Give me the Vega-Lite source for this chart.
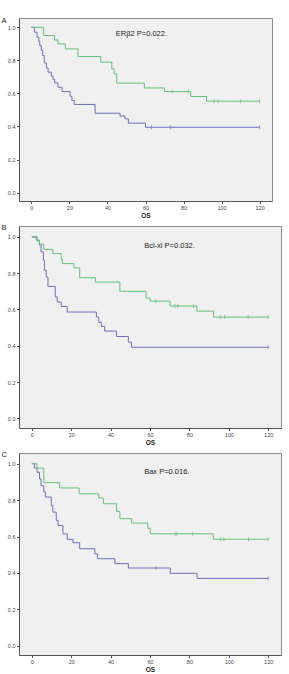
{
  "$schema": "https://vega.github.io/schema/vega-lite/v6.json",
  "padding": {"left": 0, "top": 16, "right": 0, "bottom": 0},
  "background": "white",
  "datasets": {
    "km": [
      {"p":"A","g":"1","t":0,"s":1,"c":0},{"p":"A","g":"1","t":1.6,"s":0.97,"c":0},{"p":"A","g":"1","t":3,"s":0.94,"c":0},{"p":"A","g":"1","t":3.9,"s":0.915,"c":0},{"p":"A","g":"1","t":4.4,"s":0.889,"c":0},{"p":"A","g":"1","t":5.2,"s":0.86,"c":0},{"p":"A","g":"1","t":6,"s":0.829,"c":0},{"p":"A","g":"1","t":6.8,"s":0.784,"c":0},{"p":"A","g":"1","t":7.9,"s":0.754,"c":0},{"p":"A","g":"1","t":8.8,"s":0.728,"c":0},{"p":"A","g":"1","t":10.5,"s":0.704,"c":0},{"p":"A","g":"1","t":11.4,"s":0.684,"c":0},{"p":"A","g":"1","t":12.3,"s":0.663,"c":0},{"p":"A","g":"1","t":14,"s":0.637,"c":0},{"p":"A","g":"1","t":16.1,"s":0.611,"c":0},{"p":"A","g":"1","t":20.4,"s":0.583,"c":0},{"p":"A","g":"1","t":21.3,"s":0.557,"c":0},{"p":"A","g":"1","t":22.5,"s":0.533,"c":0},{"p":"A","g":"1","t":33.5,"s":0.48,"c":0},{"p":"A","g":"1","t":46.6,"s":0.463,"c":0},{"p":"A","g":"1","t":49.2,"s":0.446,"c":0},{"p":"A","g":"1","t":51,"s":0.42,"c":0},{"p":"A","g":"1","t":60,"s":0.395,"c":0},{"p":"A","g":"1","t":63.2,"s":0.395,"c":1},{"p":"A","g":"1","t":73.2,"s":0.395,"c":1},{"p":"A","g":"1","t":120,"s":0.395,"c":1},
      {"p":"A","g":"2","t":0,"s":1,"c":0},{"p":"A","g":"2","t":6.5,"s":0.95,"c":0},{"p":"A","g":"2","t":12.2,"s":0.923,"c":0},{"p":"A","g":"2","t":14,"s":0.899,"c":0},{"p":"A","g":"2","t":17.8,"s":0.869,"c":0},{"p":"A","g":"2","t":24.5,"s":0.823,"c":0},{"p":"A","g":"2","t":36.5,"s":0.789,"c":0},{"p":"A","g":"2","t":42.3,"s":0.748,"c":0},{"p":"A","g":"2","t":43.5,"s":0.718,"c":0},{"p":"A","g":"2","t":44.9,"s":0.662,"c":0},{"p":"A","g":"2","t":59.4,"s":0.633,"c":0},{"p":"A","g":"2","t":69.9,"s":0.611,"c":0},{"p":"A","g":"2","t":74.1,"s":0.611,"c":1},{"p":"A","g":"2","t":82.5,"s":0.611,"c":1},{"p":"A","g":"2","t":83.8,"s":0.581,"c":0},{"p":"A","g":"2","t":92.1,"s":0.553,"c":0},{"p":"A","g":"2","t":96.1,"s":0.553,"c":1},{"p":"A","g":"2","t":98.2,"s":0.553,"c":1},{"p":"A","g":"2","t":109.9,"s":0.553,"c":1},{"p":"A","g":"2","t":120,"s":0.553,"c":1},
      {"p":"B","g":"1","t":0,"s":1,"c":0},{"p":"B","g":"1","t":2.7,"s":0.978,"c":0},{"p":"B","g":"1","t":3.9,"s":0.954,"c":0},{"p":"B","g":"1","t":4.7,"s":0.917,"c":0},{"p":"B","g":"1","t":5.9,"s":0.871,"c":0},{"p":"B","g":"1","t":6.4,"s":0.816,"c":0},{"p":"B","g":"1","t":7.3,"s":0.779,"c":0},{"p":"B","g":"1","t":8.2,"s":0.727,"c":0},{"p":"B","g":"1","t":11.9,"s":0.669,"c":0},{"p":"B","g":"1","t":12.9,"s":0.641,"c":0},{"p":"B","g":"1","t":14.9,"s":0.617,"c":0},{"p":"B","g":"1","t":18,"s":0.586,"c":0},{"p":"B","g":"1","t":32.8,"s":0.558,"c":0},{"p":"B","g":"1","t":34,"s":0.53,"c":0},{"p":"B","g":"1","t":35.3,"s":0.507,"c":0},{"p":"B","g":"1","t":37,"s":0.481,"c":0},{"p":"B","g":"1","t":43,"s":0.451,"c":0},{"p":"B","g":"1","t":49,"s":0.42,"c":0},{"p":"B","g":"1","t":50.6,"s":0.392,"c":0},{"p":"B","g":"1","t":120,"s":0.392,"c":1},
      {"p":"B","g":"2","t":0,"s":1,"c":0},{"p":"B","g":"2","t":2.2,"s":0.982,"c":0},{"p":"B","g":"2","t":3.9,"s":0.96,"c":0},{"p":"B","g":"2","t":6.1,"s":0.931,"c":0},{"p":"B","g":"2","t":10.7,"s":0.908,"c":0},{"p":"B","g":"2","t":14.9,"s":0.877,"c":0},{"p":"B","g":"2","t":15.5,"s":0.853,"c":0},{"p":"B","g":"2","t":21.4,"s":0.829,"c":0},{"p":"B","g":"2","t":24.3,"s":0.775,"c":0},{"p":"B","g":"2","t":32.3,"s":0.751,"c":0},{"p":"B","g":"2","t":44.7,"s":0.7,"c":0},{"p":"B","g":"2","t":58,"s":0.663,"c":0},{"p":"B","g":"2","t":60,"s":0.646,"c":0},{"p":"B","g":"2","t":62.9,"s":0.646,"c":1},{"p":"B","g":"2","t":70.2,"s":0.619,"c":0},{"p":"B","g":"2","t":72.7,"s":0.619,"c":1},{"p":"B","g":"2","t":74.1,"s":0.619,"c":1},{"p":"B","g":"2","t":82.1,"s":0.619,"c":1},{"p":"B","g":"2","t":83.8,"s":0.591,"c":0},{"p":"B","g":"2","t":92.3,"s":0.558,"c":0},{"p":"B","g":"2","t":95.7,"s":0.558,"c":1},{"p":"B","g":"2","t":97.9,"s":0.558,"c":1},{"p":"B","g":"2","t":109.8,"s":0.558,"c":1},{"p":"B","g":"2","t":120,"s":0.558,"c":1},
      {"p":"C","g":"1","t":0,"s":1,"c":0},{"p":"C","g":"1","t":1.3,"s":0.976,"c":0},{"p":"C","g":"1","t":2.7,"s":0.953,"c":0},{"p":"C","g":"1","t":3.9,"s":0.916,"c":0},{"p":"C","g":"1","t":4.7,"s":0.879,"c":0},{"p":"C","g":"1","t":6.1,"s":0.846,"c":0},{"p":"C","g":"1","t":6.9,"s":0.817,"c":0},{"p":"C","g":"1","t":9.9,"s":0.771,"c":0},{"p":"C","g":"1","t":10.7,"s":0.734,"c":0},{"p":"C","g":"1","t":12.4,"s":0.689,"c":0},{"p":"C","g":"1","t":13.3,"s":0.661,"c":0},{"p":"C","g":"1","t":15.8,"s":0.615,"c":0},{"p":"C","g":"1","t":18,"s":0.585,"c":0},{"p":"C","g":"1","t":20.9,"s":0.566,"c":0},{"p":"C","g":"1","t":24.3,"s":0.533,"c":0},{"p":"C","g":"1","t":32,"s":0.505,"c":0},{"p":"C","g":"1","t":33.3,"s":0.478,"c":0},{"p":"C","g":"1","t":42.2,"s":0.451,"c":0},{"p":"C","g":"1","t":49,"s":0.427,"c":0},{"p":"C","g":"1","t":63,"s":0.427,"c":1},{"p":"C","g":"1","t":70.3,"s":0.398,"c":0},{"p":"C","g":"1","t":83.9,"s":0.37,"c":0},{"p":"C","g":"1","t":120,"s":0.37,"c":1},
      {"p":"C","g":"2","t":0,"s":1,"c":0},{"p":"C","g":"2","t":2.7,"s":0.976,"c":0},{"p":"C","g":"2","t":6.1,"s":0.896,"c":0},{"p":"C","g":"2","t":14.1,"s":0.867,"c":0},{"p":"C","g":"2","t":24,"s":0.835,"c":0},{"p":"C","g":"2","t":34,"s":0.812,"c":0},{"p":"C","g":"2","t":36.3,"s":0.78,"c":0},{"p":"C","g":"2","t":43,"s":0.738,"c":0},{"p":"C","g":"2","t":44.7,"s":0.698,"c":0},{"p":"C","g":"2","t":50.7,"s":0.674,"c":0},{"p":"C","g":"2","t":58.9,"s":0.645,"c":0},{"p":"C","g":"2","t":60.1,"s":0.615,"c":0},{"p":"C","g":"2","t":72.8,"s":0.615,"c":1},{"p":"C","g":"2","t":73.7,"s":0.615,"c":1},{"p":"C","g":"2","t":81.7,"s":0.615,"c":1},{"p":"C","g":"2","t":92.1,"s":0.585,"c":0},{"p":"C","g":"2","t":95.8,"s":0.585,"c":1},{"p":"C","g":"2","t":97.5,"s":0.585,"c":1},{"p":"C","g":"2","t":110,"s":0.585,"c":1},{"p":"C","g":"2","t":120,"s":0.585,"c":1}
    ],
    "notes": [
      {"p":"A","k":"panel","t":-15.7,"s":1.04,"label":"A"},
      {"p":"A","k":"stat","t":44.4,"s":0.961,"label":"ERβ2 P=0.022."},
      {"p":"B","k":"panel","t":-15.4,"s":1.049,"label":"B"},
      {"p":"B","k":"stat","t":57.05,"s":0.95,"label":"Bcl-xl P=0.032."},
      {"p":"C","k":"panel","t":-15.4,"s":1.049,"label":"C"},
      {"p":"C","k":"stat","t":57.05,"s":0.955,"label":"Bax P=0.016."}
    ]
  },
  "spacing": 25,
  "bounds": "flush",
  "resolve": {"scale": {"x": "independent", "y": "independent"}},
  "vconcat": [
    {
      "width": 253, "height": 183,
      "layer": [
        {
          "data": {"name": "km"},
          "transform": [{"filter": "datum.p === 'A'"}],
          "mark": {"type": "line", "interpolate": "step-after", "strokeWidth": 1},
          "encoding": {
            "x": {"field": "t", "type": "quantitative", "scale": {"domain": [-6.5, 126.5], "nice": false, "zero": false}, "axis": {"values": [0, 20, 40, 60, 80, 100, 120], "tickCount": 20, "title": "OS"}},
            "y": {"field": "s", "type": "quantitative", "scale": {"domain": [-0.051, 1.056], "nice": false, "zero": false}, "axis": {"values": [0, 0.2, 0.4, 0.6, 0.8, 1], "tickCount": 20, "format": ".1f", "title": null}},
            "color": {"field": "g", "type": "nominal", "scale": {"domain": ["1", "2"], "range": ["#6f6fc2", "#62c277"]}, "legend": null}
          }
        },
        {
          "data": {"name": "km"},
          "transform": [{"filter": "datum.p === 'A' && datum.c === 1"}],
          "mark": {"type": "tick", "orient": "vertical", "size": 4, "thickness": 1},
          "encoding": {
            "x": {"field": "t", "type": "quantitative"},
            "y": {"field": "s", "type": "quantitative"},
            "color": {"field": "g", "type": "nominal", "legend": null}
          }
        },
        {
          "data": {"name": "notes"},
          "transform": [{"filter": "datum.p === 'A'"}],
          "mark": {"type": "text", "align": "left", "baseline": "middle", "font": "Liberation Sans", "fontSize": 7.5, "color": "#222"},
          "encoding": {
            "x": {"field": "t", "type": "quantitative"},
            "y": {"field": "s", "type": "quantitative"},
            "text": {"field": "label"}
          }
        }
      ]
    },
    {
      "width": 262, "height": 202,
      "layer": [
        {
          "data": {"name": "km"},
          "transform": [{"filter": "datum.p === 'B'"}],
          "mark": {"type": "line", "interpolate": "step-after", "strokeWidth": 1},
          "encoding": {
            "x": {"field": "t", "type": "quantitative", "scale": {"domain": [-6.5, 126.5], "nice": false, "zero": false}, "axis": {"values": [0, 20, 40, 60, 80, 100, 120], "tickCount": 20, "title": "OS"}},
            "y": {"field": "s", "type": "quantitative", "scale": {"domain": [-0.053, 1.06], "nice": false, "zero": false}, "axis": {"values": [0, 0.2, 0.4, 0.6, 0.8, 1], "tickCount": 20, "format": ".1f", "title": null}},
            "color": {"field": "g", "type": "nominal", "scale": {"domain": ["1", "2"], "range": ["#6f6fc2", "#62c277"]}, "legend": null}
          }
        },
        {
          "data": {"name": "km"},
          "transform": [{"filter": "datum.p === 'B' && datum.c === 1"}],
          "mark": {"type": "tick", "orient": "vertical", "size": 4, "thickness": 1},
          "encoding": {
            "x": {"field": "t", "type": "quantitative"},
            "y": {"field": "s", "type": "quantitative"},
            "color": {"field": "g", "type": "nominal", "legend": null}
          }
        },
        {
          "data": {"name": "notes"},
          "transform": [{"filter": "datum.p === 'B'"}],
          "mark": {"type": "text", "align": "left", "baseline": "middle", "font": "Liberation Sans", "fontSize": 7.5, "color": "#222"},
          "encoding": {
            "x": {"field": "t", "type": "quantitative"},
            "y": {"field": "s", "type": "quantitative"},
            "text": {"field": "label"}
          }
        }
      ]
    },
    {
      "width": 262, "height": 202,
      "layer": [
        {
          "data": {"name": "km"},
          "transform": [{"filter": "datum.p === 'C'"}],
          "mark": {"type": "line", "interpolate": "step-after", "strokeWidth": 1},
          "encoding": {
            "x": {"field": "t", "type": "quantitative", "scale": {"domain": [-6.5, 126.5], "nice": false, "zero": false}, "axis": {"values": [0, 20, 40, 60, 80, 100, 120], "tickCount": 20, "title": "OS"}},
            "y": {"field": "s", "type": "quantitative", "scale": {"domain": [-0.051, 1.059], "nice": false, "zero": false}, "axis": {"values": [0, 0.2, 0.4, 0.6, 0.8, 1], "tickCount": 20, "format": ".1f", "title": null}},
            "color": {"field": "g", "type": "nominal", "scale": {"domain": ["1", "2"], "range": ["#6f6fc2", "#62c277"]}, "legend": null}
          }
        },
        {
          "data": {"name": "km"},
          "transform": [{"filter": "datum.p === 'C' && datum.c === 1"}],
          "mark": {"type": "tick", "orient": "vertical", "size": 4, "thickness": 1},
          "encoding": {
            "x": {"field": "t", "type": "quantitative"},
            "y": {"field": "s", "type": "quantitative"},
            "color": {"field": "g", "type": "nominal", "legend": null}
          }
        },
        {
          "data": {"name": "notes"},
          "transform": [{"filter": "datum.p === 'C'"}],
          "mark": {"type": "text", "align": "left", "baseline": "middle", "font": "Liberation Sans", "fontSize": 7.5, "color": "#222"},
          "encoding": {
            "x": {"field": "t", "type": "quantitative"},
            "y": {"field": "s", "type": "quantitative"},
            "text": {"field": "label"}
          }
        }
      ]
    }
  ],
  "config": {
    "view": {"fill": "#f0f0f0", "stroke": "#8c8c8c", "strokeWidth": 1},
    "axis": {
      "grid": false,
      "labelOverlap": false,
      "labelFlush": false,
      "domainColor": "#555555",
      "tickColor": "#555555",
      "tickSize": 2.5,
      "labelColor": "#444444",
      "labelFont": "Liberation Sans",
      "labelFontSize": 5.5,
      "labelPadding": 1.5,
      "titleFont": "Liberation Sans",
      "titleFontSize": 6.5,
      "titleFontWeight": "bold",
      "titleColor": "#222222",
      "titlePadding": 1.5
    }
  }
}
